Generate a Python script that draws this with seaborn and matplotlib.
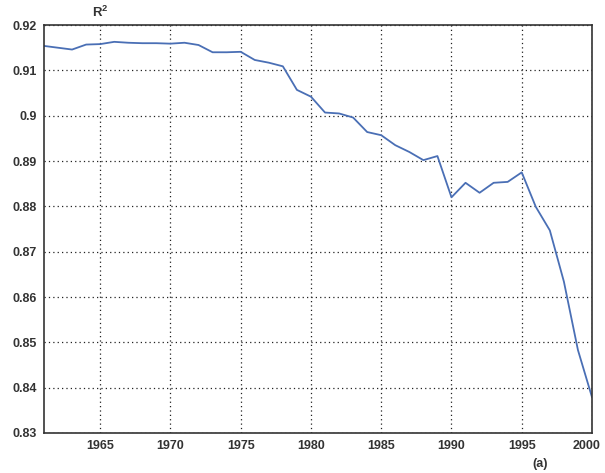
import matplotlib
matplotlib.use("Agg")
import matplotlib.pyplot as plt
import matplotlib.transforms as mtransforms
import seaborn as sns
import pandas as pd
import numpy as np

years = list(range(1961, 2001))
r2 = [0.9154, 0.9150, 0.9146, 0.9157, 0.9158, 0.9163, 0.9161, 0.9160, 0.9160, 0.9159,
      0.9161, 0.9156, 0.9140, 0.9140, 0.9141, 0.9123, 0.9117, 0.9109, 0.9057, 0.9042,
      0.9007, 0.9005, 0.8996, 0.8964, 0.8957, 0.8935, 0.8920, 0.8902, 0.8911, 0.8820,
      0.8852, 0.8830, 0.8852, 0.8854, 0.8875, 0.8799, 0.8747, 0.8634, 0.8483, 0.8379]
x_ticks = [1965, 1970, 1975, 1980, 1985, 1990, 1995, 2000]
y_ticks = [0.83, 0.84, 0.85, 0.86, 0.87, 0.88, 0.89, 0.90, 0.91, 0.92]
y_labels = ["0.83", "0.84", "0.85", "0.86", "0.87", "0.88", "0.89", "0.9", "0.91", "0.92"]

df = pd.DataFrame({"year": years, "r2": r2})

sns.set_style("white")
plt.rcParams['font.family'] = ['Liberation Sans', 'DejaVu Sans']
plt.rcParams['mathtext.fontset'] = 'custom'
plt.rcParams['mathtext.bf'] = 'Liberation Sans:bold'
plt.rcParams['mathtext.rm'] = 'Liberation Sans'

fig = plt.figure(figsize=(6.05, 4.73), dpi=100)
ax = fig.add_axes([0.0727, 0.0846, 0.9058, 0.8624])
sns.lineplot(data=df, x="year", y="r2", ax=ax, color="#4a6fb5", linewidth=1.3)

ax.set_xlim(1961, 2000)
ax.set_ylim(0.83, 0.92)
ax.set_xticks(x_ticks)
ax.set_xticklabels([str(t) for t in x_ticks], fontsize=9, fontweight="bold", color="#333333")
ax.set_yticks(y_ticks)
ax.set_yticklabels(y_labels, fontsize=9, fontweight="bold", color="#333333")
ax.tick_params(direction="in", length=4, width=1, pad=5, colors="#333333")
ax.grid(True, linestyle=(0, (1, 2.5)), color="#222222", linewidth=0.9)
ax.set_xlabel("")
ax.set_ylabel("")
for s in ax.spines.values():
    s.set_color("#333333")
    s.set_linewidth(1.2)

last = ax.get_xticklabels()[-1]
last.set_transform(last.get_transform() + mtransforms.ScaledTranslation(-5/100, 0, fig.dpi_scale_trans))

ax.text(1965, 0.9212, r"$\mathbf{R^2}$", ha="center", va="bottom", fontsize=9.5, color="#333333")
ax.text(1996.3, 0.8245, "(a)", ha="center", va="top", fontsize=9, fontweight="bold", color="#333333")

fig.savefig("out.png", dpi=100)
